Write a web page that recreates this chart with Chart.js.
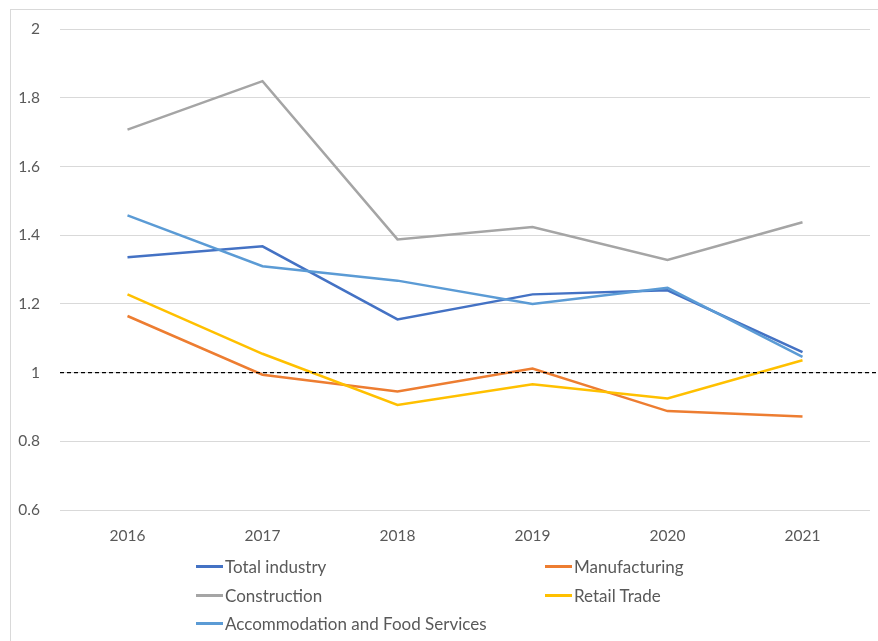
<!DOCTYPE html>
<html><head><meta charset="utf-8">
<script src="https://cdn.jsdelivr.net/npm/chart.js@4/dist/chart.umd.min.js"></script>
<style>
html,body{margin:0;padding:0;background:#fff;width:878px;height:641px;overflow:hidden;font-family:Lato,"Open Sans",sans-serif;}
#frame{position:absolute;left:10px;top:9px;width:880px;height:640px;border:1px solid #d9d9d9;box-sizing:border-box;}
#wrap{position:absolute;left:0;top:0;width:878px;height:641px;}
#legend{position:absolute;left:0;top:0;width:878px;height:641px;pointer-events:none;}
.item{position:absolute;display:flex;align-items:center;font-size:17px;color:#595959;white-space:nowrap;height:20px;}
.item .sw{display:inline-block;width:27px;height:3px;margin-right:2px;}
</style></head>
<body>
<div id="frame"></div>
<div id="wrap"><canvas id="c" width="878" height="641"></canvas></div>
<div id="legend"></div>
<script>
const categories = ["2016","2017","2018","2019","2020","2021"];
const totalIndustry = [1.336, 1.368, 1.155, 1.228, 1.240, 1.060];
const manufacturing = [1.165, 0.994, 0.945, 1.012, 0.888, 0.872];
const construction = [1.708, 1.849, 1.388, 1.424, 1.328, 1.438];
const retailTrade = [1.228, 1.055, 0.906, 0.966, 0.925, 1.036];
const accommodationFood = [1.458, 1.310, 1.268, 1.200, 1.247, 1.046];
const seriesNames = ["Total industry","Manufacturing","Construction","Retail Trade","Accommodation and Food Services"];
const referenceValue = 1;

const colors = ["#4472C4","#ED7D31","#A5A5A5","#FFC000","#5B9BD5"];
const seriesData = [totalIndustry, manufacturing, construction, retailTrade, accommodationFood];

const datasets = seriesData.map((d,i)=>({
  label: seriesNames[i], data: d, borderColor: colors[i], backgroundColor: colors[i],
  borderWidth: 2.5, pointRadius: 0, tension: 0, fill:false, order: seriesData.length - i
}));

const refLine = {
  id:'refLine',
  afterDatasetsDraw(chart){
    const {ctx, chartArea, scales} = chart;
    const y = scales.y.getPixelForValue(referenceValue);
    ctx.save();
    ctx.strokeStyle = '#000';
    ctx.lineWidth = 1.2;
    ctx.setLineDash([4,3]);
    ctx.beginPath();
    ctx.moveTo(chartArea.left, y);
    ctx.lineTo(chartArea.right + 6, y);
    ctx.stroke();
    ctx.restore();
  }
};

new Chart(document.getElementById('c'), {
  type:'line',
  data:{labels:categories, datasets},
  options:{
    responsive:false, animation:false,
    layout:{padding:{left:12, top:27, right:8, bottom:91}},
    plugins:{legend:{display:false}, tooltip:{enabled:false}},
    scales:{
      x:{
        offset:true,
        grid:{display:false, drawTicks:false},
        border:{display:false},
        ticks:{color:'#595959', font:{family:'Lato', size:15.5}, padding:17},
        afterFit(s){ s.height = 40; }
      },
      y:{
        min:0.6, max:2,
        grid:{color:'#d9d9d9', drawTicks:false, lineWidth:1},
        border:{display:false},
        ticks:{stepSize:0.2, color:'#595959', font:{family:'Lato', size:15.5}, padding:20,
          callback:v=>String(Number(v.toFixed(1)))},
        afterFit(s){ s.width = 48; }
      }
    }
  },
  plugins:[refLine]
});

const legendPos = [[196,556],[545,556],[196,585],[545,585],[196,613]];
const lg = document.getElementById('legend');
seriesNames.forEach((n,i)=>{
  const el = document.createElement('div');
  el.className='item';
  el.style.left = legendPos[i][0]+'px';
  el.style.top = legendPos[i][1]+'px';
  el.innerHTML = '<span class="sw" style="background:'+colors[i]+'"></span><span></span>';
  el.lastChild.textContent = n;
  lg.appendChild(el);
});
</script>
</body></html>
